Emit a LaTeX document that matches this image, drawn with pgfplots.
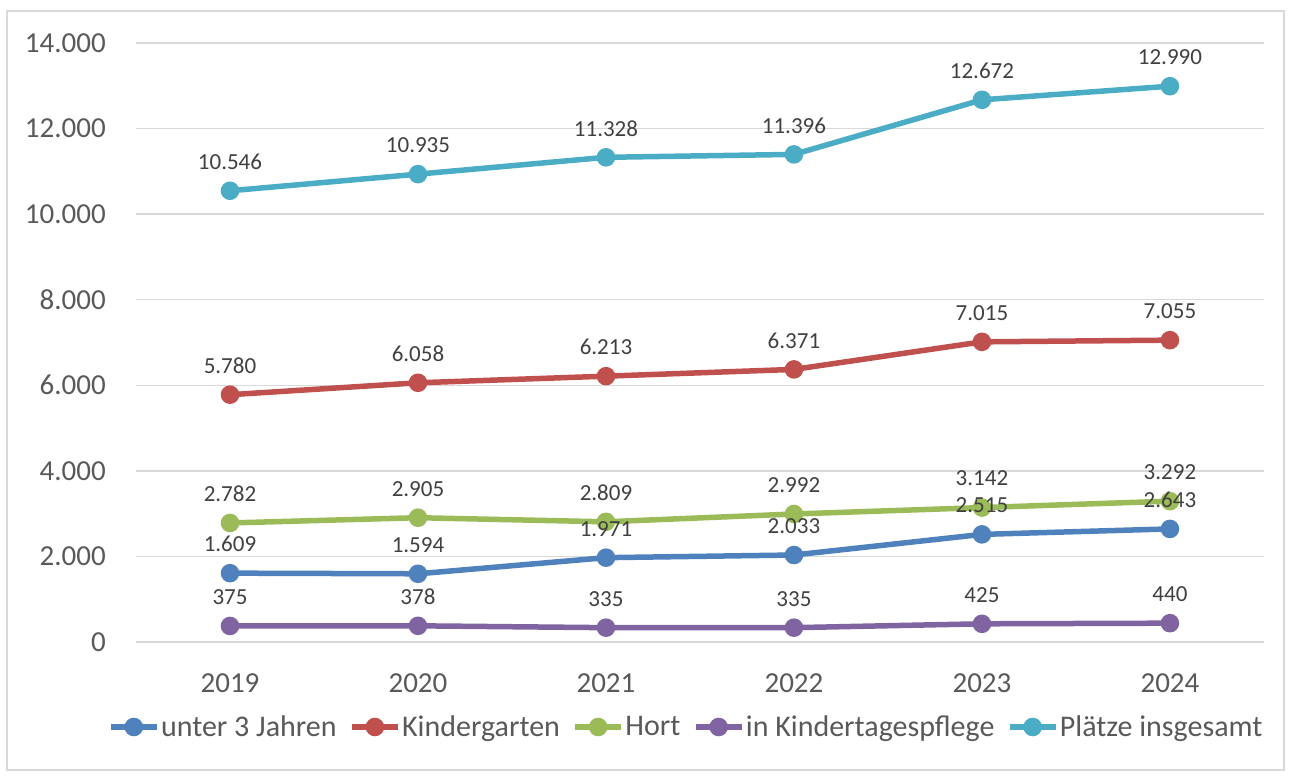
\documentclass[border=0pt]{standalone}
\usepackage{fontspec}
\setmainfont{Carlito}
\usepackage{pgfplots}
\pgfplotsset{compat=1.18}
\usepackage{pgfplotstable}
\definecolor{cBlue}{HTML}{4F81BD}
\definecolor{cRed}{HTML}{C0504D}
\definecolor{cGreen}{HTML}{9BBB59}
\definecolor{cPurple}{HTML}{8064A2}
\definecolor{cCyan}{HTML}{4BACC6}
\definecolor{gridgray}{HTML}{D9D9D9}
\definecolor{txtgray}{HTML}{595959}
\definecolor{lblgray}{HTML}{404040}
\pgfplotstableread{
x u k h t p
0 1609 5780 2782 375 10546
1 1594 6058 2905 378 10935
2 1971 6213 2809 335 11328
3 2033 6371 2992 335 11396
4 2515 7015 3142 425 12672
5 2643 7055 3292 440 12990
}\data
\begin{document}
\begin{tikzpicture}[x=1pt,y=1pt]
\path (0,0) rectangle (1291,776);
\draw[color=gridgray, line width=1.5pt] (7,6) rectangle (1284,765);
\begin{axis}[
  at={(136pt,134pt)}, anchor=south west,
  scale only axis, width=1128pt, height=599pt,
  xmin=-0.5, xmax=5.5, ymin=0, ymax=14000,
  axis line style={draw=none},
  major tick length=0pt,
  scaled ticks=false,
  xtick={0,...,5}, xticklabels={2019,2020,2021,2022,2023,2024},
  ytick={0,2000,...,14000},
  ymajorgrids, grid style={color=gridgray, line width=1.5pt},
  /pgf/number format/.cd, fixed, precision=0, 1000 sep={.}, assume math mode=true,
  /pgfplots/.cd,
  yticklabel style={font=\fontsize{29}{30}\selectfont, text=txtgray, anchor=east, inner sep=0pt, xshift=-30pt},
  xticklabel style={font=\fontsize{29}{30}\selectfont, text=txtgray, anchor=center, inner sep=0pt, yshift=-41pt},
  clip=false,
  legend columns=-1,
  legend style={at={(0.4876,-0.1419)}, anchor=center, draw=none, fill=none,
    font=\fontsize{30}{32}\selectfont, text=txtgray,
    /tikz/every even column/.append style={column sep=11pt},
    nodes={inner sep=1.5pt}},
  legend image code/.code={\draw[mark repeat=2,mark phase=2,#1] plot coordinates {(0pt,0pt)(23pt,0pt)(46pt,0pt)};},
  every axis plot/.append style={line width=5.5pt, mark=*, mark size=6.5pt, mark options={solid, draw=none}},
  lbl/.style={draw=none, mark=none, forget plot, nodes near coords,
    every node near coord/.append style={font=\fontsize{23}{24}\selectfont, text=lblgray, anchor=center, inner sep=0pt, yshift=29pt}},
]
\addplot[color=cBlue, mark options={fill=cBlue}] table[x=x,y=u]{\data};
\addlegendentry{unter 3 Jahren}
\addplot[color=cRed, mark options={fill=cRed}] table[x=x,y=k]{\data};
\addlegendentry{Kindergarten}
\addplot[color=cGreen, mark options={fill=cGreen}] table[x=x,y=h]{\data};
\addlegendentry{Hort}
\addplot[color=cPurple, mark options={fill=cPurple}] table[x=x,y=t]{\data};
\addlegendentry{in Kindertagespflege}
\addplot[color=cCyan, mark options={fill=cCyan}] table[x=x,y=p]{\data};
\addlegendentry{Plätze insgesamt}
\addplot[lbl] table[x=x,y=u]{\data};
\addplot[lbl] table[x=x,y=k]{\data};
\addplot[lbl] table[x=x,y=h]{\data};
\addplot[lbl] table[x=x,y=t]{\data};
\addplot[lbl] table[x=x,y=p]{\data};
\end{axis}
\end{tikzpicture}
\end{document}
